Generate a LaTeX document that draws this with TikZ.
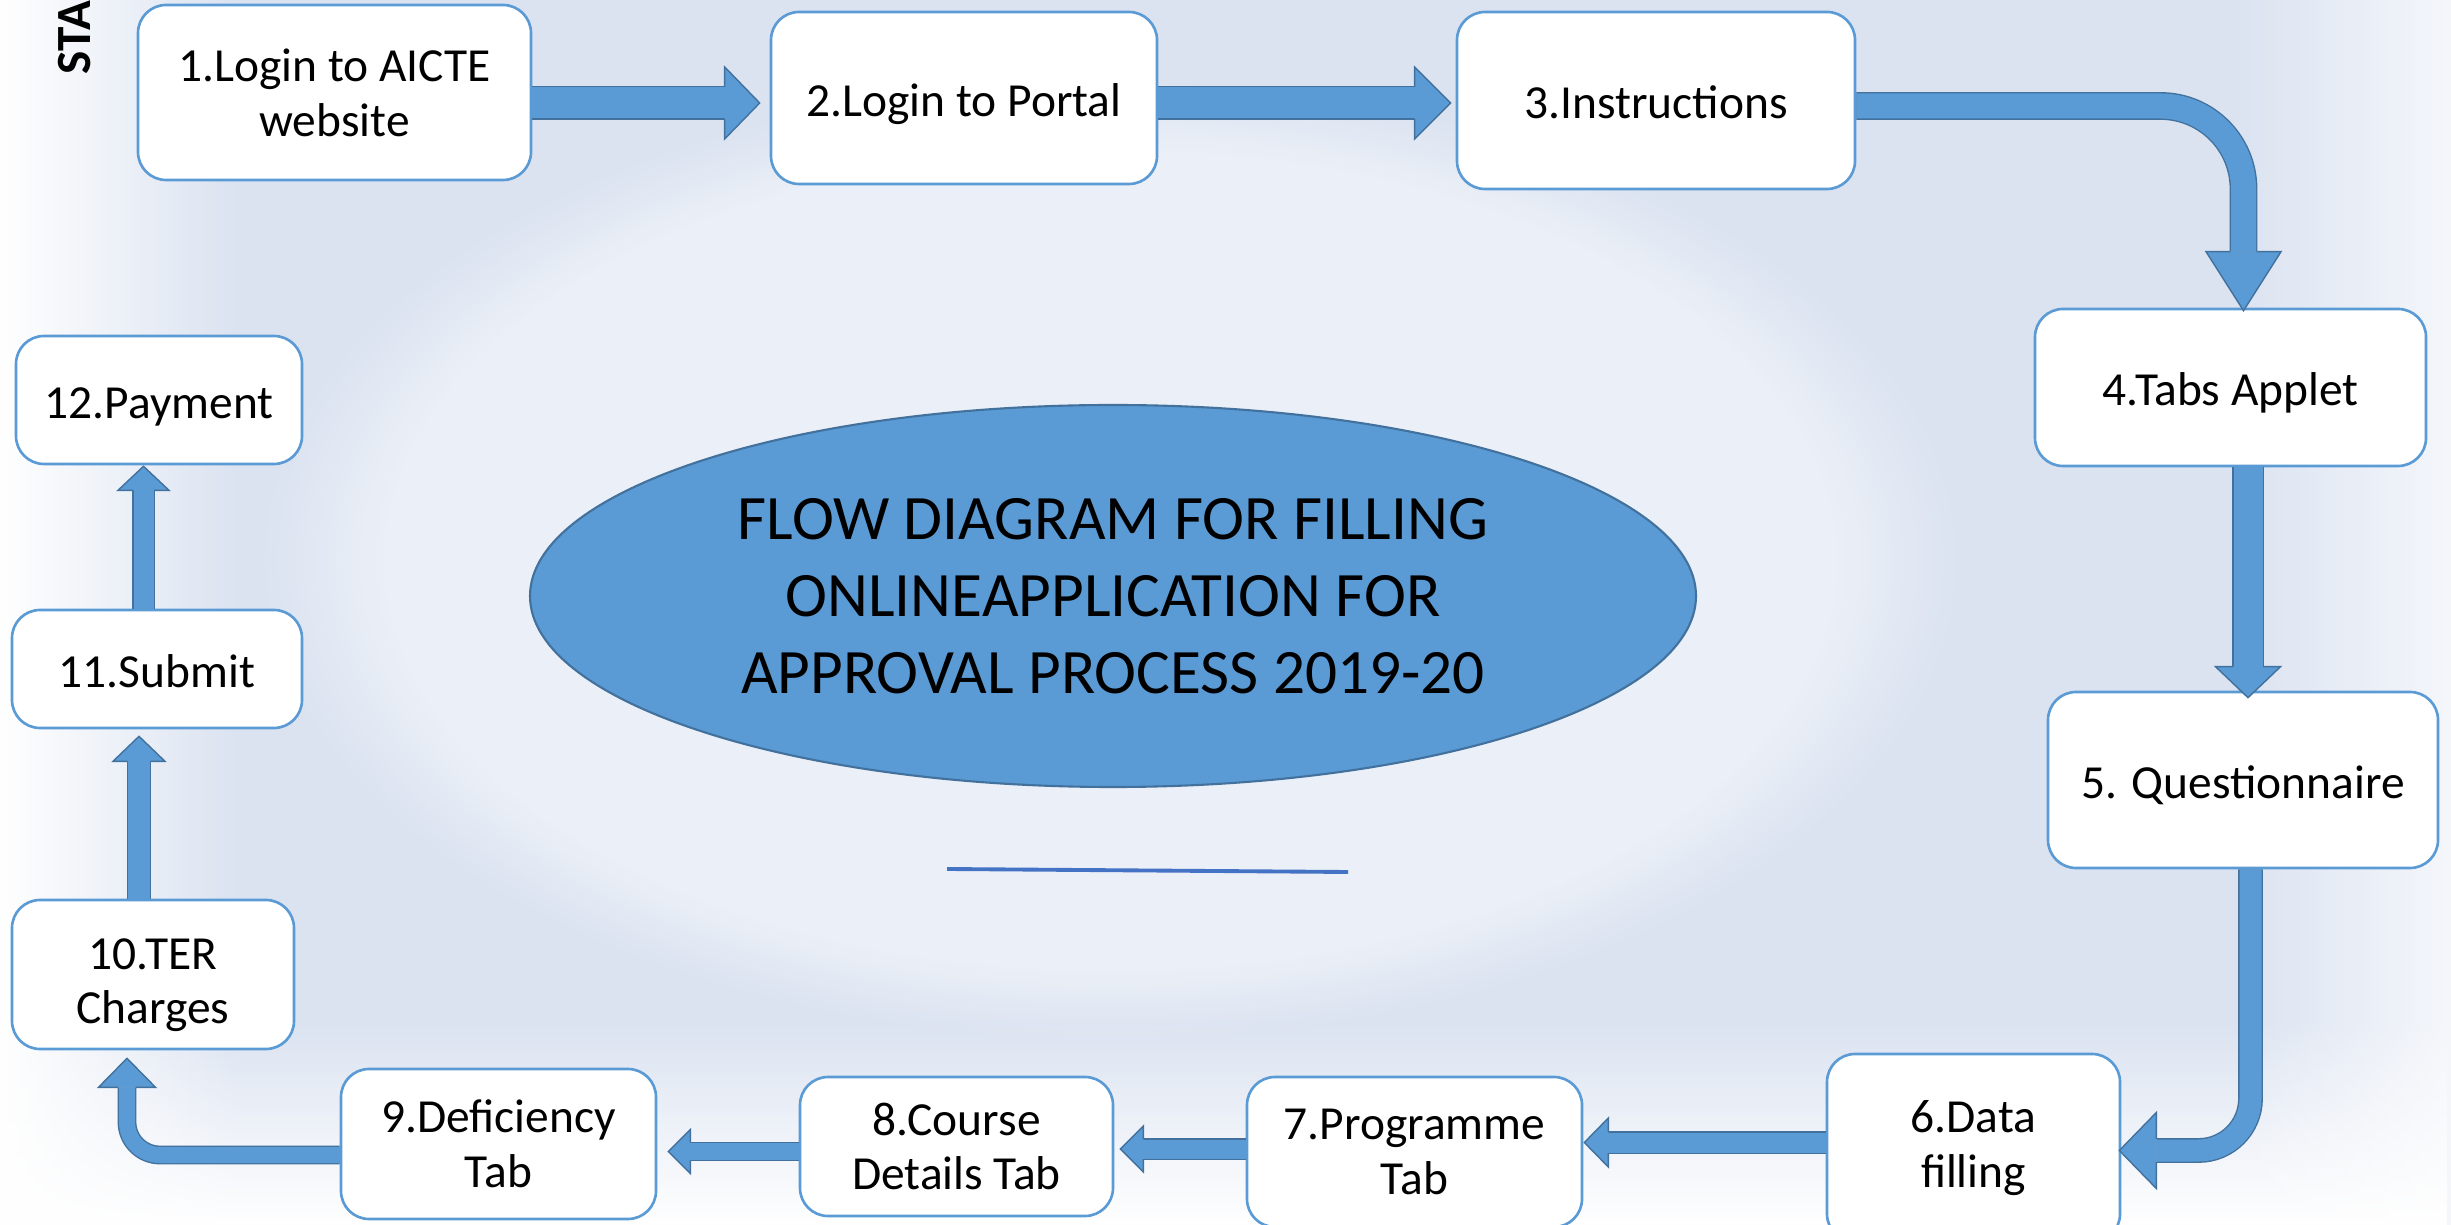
\documentclass[tikz,border=0pt]{standalone}
\usepackage{fontspec}
\setmainfont{Carlito}
\usetikzlibrary{shapes.geometric,calc,fadings}

\definecolor{boxline}{HTML}{5B9BD5}
\definecolor{arrowfill}{HTML}{5B9BD5}
\definecolor{arrowline}{HTML}{41719C}
\definecolor{rulecol}{HTML}{4472C4}
\definecolor{bgblue}{HTML}{DBE3F1}

\tikzset{
  stepbox/.style={draw=boxline, line width=0.75pt, fill=white, rounded corners=0.28cm,
    align=center, inner sep=2pt, font=\fontsize{13.5}{15.6}\selectfont},
  oneline/.style={text height=1.1em, text depth=0.05em},
  shaft/.style={draw=arrowline, line width=0.4pt, double=arrowfill},
}

% head of a block arrow: base, tip, shaft half width, head half width
\newcommand{\fathead}[4]{%
  \fill[arrowfill] ($(#1)!#4!90:(#2)$) -- (#2) -- ($(#1)!#4!-90:(#2)$) -- cycle;
  \draw[arrowline, line width=0.4pt, line join=miter] ($(#1)!#3!90:(#2)$) -- ($(#1)!#4!90:(#2)$)
    -- (#2) -- ($(#1)!#4!-90:(#2)$) -- ($(#1)!#3!-90:(#2)$);
}

\begin{document}
\begin{tikzpicture}
    \useasboundingbox (0,0) rectangle (24.51,-12.25);
    \clip (0,0) rectangle (24.51,-12.25);
    % background
    \fill[bgblue] (0,0) rectangle (24.51,-12.25);
    \fill[white, opacity=0.45, path fading=circle with fuzzy edge 15 percent] (11.1,-5.6) ellipse (8.5 and 4.8);
    \fill[white, path fading=east] (0,0) rectangle (2.4,-12.25);
    \fill[white, path fading=north] (0,-10.2) rectangle (24.51,-12.25);
    \fill[white, opacity=0.7, path fading=west] (22.3,0) rectangle (24.51,-12.25);

    \node[rotate=90, anchor=base west, inner sep=0pt, font=\fontsize{14}{16}\selectfont\bfseries] (start) at (0.90,-0.75) {START};

    % steps
    \node[stepbox, minimum width=3.93cm, minimum height=1.75cm] (aicte) at (3.345,-0.925) {1.Login to AICTE\\website};
    \node[stepbox, oneline, minimum width=3.86cm, minimum height=1.72cm] (portal) at (9.64,-0.98) {2.Login to Portal};
    \node[stepbox, oneline, minimum width=3.98cm, minimum height=1.77cm] (instr) at (16.56,-1.005) {3.Instructions};
    \node[stepbox, oneline, minimum width=3.91cm, minimum height=1.57cm] (tabs) at (22.305,-3.875) {4.Tabs Applet};
    \node[stepbox, oneline, minimum width=3.90cm, minimum height=1.76cm] (quest) at (22.43,-7.80) {5. Questionnaire};
    \node[stepbox, minimum width=2.93cm, minimum height=1.88cm] (data) at (19.735,-11.48) {6.Data\\filling};
    \node[stepbox, minimum width=3.35cm, minimum height=1.50cm] (prog) at (14.145,-11.52) {7.Programme\\Tab};
    \node[stepbox, minimum width=3.13cm, minimum height=1.39cm] (course) at (9.565,-11.465) {8.Course\\Details Tab};
    \node[stepbox, minimum width=3.15cm, minimum height=1.50cm] (defic) at (4.985,-11.44) {9.Deficiency\\Tab};
    \node[stepbox, minimum width=2.82cm, minimum height=1.49cm] (ter) at (1.53,-9.745) {\rule{0pt}{0.52cm}10.TER\\Charges};
    \node[stepbox, oneline, minimum width=2.90cm, minimum height=1.18cm] (submit) at (1.57,-6.69) {11.Submit};
    \node[stepbox, oneline, minimum width=2.86cm, minimum height=1.28cm] (payment) at (1.59,-4.00) {12.Payment};

    % title
    \node[ellipse, draw=arrowline, line width=0.6pt, fill=arrowfill, minimum width=11.66cm, minimum height=3.82cm,
      align=center, font=\fontsize{18}{21.9}\selectfont] (title) at (11.13,-5.96)
      {FLOW DIAGRAM FOR FILLING\\ONLINEAPPLICATION FOR\\APPROVAL PROCESS 2019-20};
    \draw[rulecol, line width=1.1pt] (9.47,-8.69) -- (13.48,-8.72);

    % 1 -> 2
    \coordinate (s12) at ([yshift=-0.105cm]aicte.east);
    \coordinate (t12) at ($(s12 -| portal.west)+(-0.10,0)$);
    \coordinate (b12) at ($(t12)+(-0.35,0)$);
    \draw[shaft, double distance=0.31cm] (s12) -- (b12);
    \fathead{b12}{t12}{0.162cm}{0.36cm}
    % 2 -> 3
    \coordinate (s23) at ([yshift=-0.05cm]portal.east);
    \coordinate (t23) at ($(s23 -| instr.west)+(-0.05,0)$);
    \coordinate (b23) at ($(t23)+(-0.36,0)$);
    \draw[shaft, double distance=0.31cm] (s23) -- (b23);
    \fathead{b23}{t23}{0.162cm}{0.36cm}
    % 3 -> 4
    \coordinate (t34) at ([xshift=0.13cm,yshift=-0.03cm]tabs.north);
    \coordinate (b34) at ($(t34)+(0,0.59)$);
    \draw[shaft, double distance=0.25cm, rounded corners=0.83cm] ([yshift=-0.055cm]instr.east) -| (b34);
    \fathead{b34}{t34}{0.132cm}{0.375cm}
    % 4 -> 5
    \coordinate (s45) at ([xshift=0.175cm]tabs.south);
    \coordinate (t45) at ($(s45 |- quest.north)+(0,-0.07)$);
    \coordinate (b45) at ($(t45)+(0,0.31)$);
    \draw[shaft, double distance=0.29cm] (s45) -- (b45);
    \fathead{b45}{t45}{0.152cm}{0.325cm}
    % 5 -> 6
    \coordinate (t56) at ([xshift=-0.02cm,yshift=-0.025cm]data.east);
    \coordinate (b56) at ($(t56)+(0.37,0)$);
    \draw[shaft, double distance=0.22cm, rounded corners=0.52cm] ([xshift=0.075cm]quest.south) |- (b56);
    \fathead{b56}{t56}{0.117cm}{0.38cm}
    % 6 -> 7
    \coordinate (s67) at ([yshift=0.055cm]data.west);
    \coordinate (t67) at ($(s67 -| prog.east)+(0.01,0)$);
    \coordinate (b67) at ($(t67)+(0.24,0)$);
    \draw[shaft, double distance=0.20cm] (s67) -- (b67);
    \fathead{b67}{t67}{0.107cm}{0.245cm}
    % 7 -> 8
    \coordinate (s78) at ([yshift=0.03cm]prog.west);
    \coordinate (t78) at ($(s78 -| course.east)+(0.06,0)$);
    \coordinate (b78) at ($(t78)+(0.23,0)$);
    \draw[shaft, double distance=0.19cm] (s78) -- (b78);
    \fathead{b78}{t78}{0.102cm}{0.23cm}
    % 8 -> 9
    \coordinate (s89) at ([yshift=-0.05cm]course.west);
    \coordinate (t89) at ($(s89 -| defic.east)+(0.11,0)$);
    \coordinate (b89) at ($(t89)+(0.22,0)$);
    \draw[shaft, double distance=0.17cm] (s89) -- (b89);
    \fathead{b89}{t89}{0.092cm}{0.22cm}
    % 9 -> 10
    \coordinate (t910) at ([xshift=-0.26cm,yshift=-0.08cm]ter.south);
    \coordinate (b910) at ($(t910)+(0,-0.29)$);
    \draw[shaft, double distance=0.16cm, rounded corners=0.33cm] ([yshift=-0.11cm]defic.west) -| (b910);
    \fathead{b910}{t910}{0.087cm}{0.285cm}
    % 10 -> 11
    \coordinate (s1011) at ([xshift=-0.14cm]ter.north);
    \coordinate (t1011) at ($(s1011 |- submit.south)+(0,-0.07)$);
    \coordinate (b1011) at ($(t1011)+(0,-0.25)$);
    \draw[shaft, double distance=0.22cm] (s1011) -- (b1011);
    \fathead{b1011}{t1011}{0.117cm}{0.26cm}
    % 11 -> 12
    \coordinate (s1112) at ([xshift=-0.135cm]submit.north);
    \coordinate (t1112) at ($(s1112 |- payment.south)+(0,-0.01)$);
    \coordinate (b1112) at ($(t1112)+(0,-0.24)$);
    \draw[shaft, double distance=0.20cm] (s1112) -- (b1112);
    \fathead{b1112}{t1112}{0.107cm}{0.255cm}
\end{tikzpicture}
\end{document}
